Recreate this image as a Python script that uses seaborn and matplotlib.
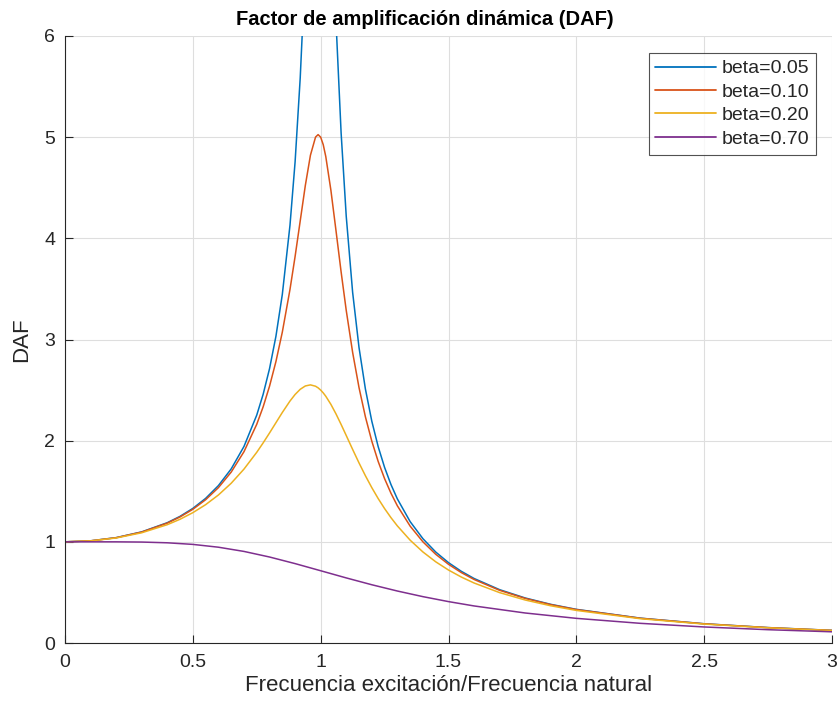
import numpy as np
import pandas as pd
import matplotlib
matplotlib.use("Agg")
import matplotlib.pyplot as plt
import seaborn as sns

# frequency ratio samples
r_main = [0, 0.1, 0.2, 0.3, 0.4, 0.45, 0.5, 0.55, 0.6, 0.65, 0.7, 0.75, 0.775, 0.8,
          0.825, 0.85, 0.88, 0.9, 0.92, 0.94, 0.96, 0.98, 0.99, 1.0, 1.01, 1.02, 1.04,
          1.06, 1.08, 1.1, 1.125, 1.15, 1.175, 1.2, 1.225, 1.25, 1.275, 1.3, 1.35, 1.4,
          1.45, 1.5, 1.55, 1.6, 1.7, 1.8, 1.9, 2.0, 2.25, 2.5, 2.75, 3.0]

daf_005 = [1.000, 1.0101, 1.0414, 1.0983, 1.1891, 1.2519, 1.3304, 1.4293, 1.5557, 1.7207,
           1.9426, 2.2529, 2.4581, 2.7116, 3.0316, 3.4455, 4.1296, 4.7565, 5.5852, 6.6837,
           8.068, 9.461, 9.903, 10.0, 9.711, 9.115, 7.565, 6.1414, 5.0409, 4.2182,
           3.4666, 2.9206, 2.5103, 2.1926, 1.9403, 1.7355, 1.5662, 1.4242, 1.1998, 1.0308,
           0.8993, 0.7943, 0.7087, 0.6377, 0.5270, 0.4450, 0.3821, 0.3326, 0.2458, 0.1903,
           0.1523, 0.1249]

daf_010 = [1.000, 1.0099, 1.0408, 1.0965, 1.1851, 1.2460, 1.3216, 1.4162, 1.5357, 1.6893,
           1.8908, 2.1621, 2.3343, 2.5384, 2.7818, 3.0728, 3.4949, 3.8208, 4.1721, 4.5225,
           4.8218, 5.0010, 5.0252, 5.0, 4.9262, 4.8086, 4.4756, 4.0750, 3.6676, 3.2880,
           2.8727, 2.5245, 2.2355, 1.9952, 1.7941, 1.6246, 1.4802, 1.3562, 1.1552, 1.0000,
           0.8772, 0.7779, 0.6962, 0.6280, 0.5207, 0.4408, 0.3791, 0.3304, 0.2447, 0.1896,
           0.1519, 0.1247]

daf_020 = [1.000, 1.0093, 1.0381, 1.0895, 1.1695, 1.2232, 1.2883, 1.3673, 1.4630, 1.5790,
           1.7188, 1.8851, 1.9780, 2.0761, 2.1775, 2.2786, 2.3918, 2.4566, 2.5077, 2.5407,
           2.5515, 2.5381, 2.5221, 2.5, 2.4722, 2.4391, 2.3589, 2.2642, 2.1601, 2.0511,
           1.9137, 1.7800, 1.6534, 1.5357, 1.4275, 1.3287, 1.2389, 1.1574, 1.0163, 0.8998,
           0.8027, 0.7212, 0.6521, 0.5931, 0.4979, 0.4250, 0.3679, 0.3221, 0.2403, 0.1871,
           0.1503, 0.1236]

r_070 = [0, 0.1, 0.2, 0.3, 0.4, 0.5, 0.6, 0.7, 0.8, 0.9, 1.0, 1.1, 1.2, 1.3, 1.4, 1.5,
         1.6, 1.8, 2.0, 2.25, 2.5, 2.75, 3.0]
daf_070 = [1.000, 1.0002, 1.000, 0.9978, 0.9905, 0.9747, 0.9469, 0.9052, 0.8500, 0.7848,
           0.7143, 0.6434, 0.5758, 0.5138, 0.4582, 0.4092, 0.3663, 0.2966, 0.2437, 0.1945,
           0.1585, 0.1314, 0.1107]

labels = ["beta=0.05", "beta=0.10", "beta=0.20", "beta=0.70"]
colors = ["#0072BD", "#D95319", "#EDB120", "#7E2F8E"]

frames = []
for lab, rr, dd in zip(labels, [r_main, r_main, r_main, r_070],
                       [daf_005, daf_010, daf_020, daf_070]):
    frames.append(pd.DataFrame({"r": rr, "DAF": dd, "serie": lab}))
df = pd.concat(frames, ignore_index=True)

sns.set_style("white")
plt.rcParams["font.family"] = ["Liberation Sans", "DejaVu Sans"]

fig = plt.figure(figsize=(8.38, 7.06), dpi=100)
ax = fig.add_axes([65 / 838, 1 - 643 / 706, (832 - 65) / 838, (643 - 36) / 706])

sns.lineplot(data=df, x="r", y="DAF", hue="serie", palette=colors, sort=False,
             estimator=None, linewidth=1.1, ax=ax, legend=True)

ax.set_xlim(0, 3)
ax.set_ylim(0, 6)
ax.set_xticks([0, 0.5, 1, 1.5, 2, 2.5, 3])
ax.set_xticklabels(["0", "0.5", "1", "1.5", "2", "2.5", "3"])
ax.set_yticks([0, 1, 2, 3, 4, 5, 6])
ax.grid(True, color="#dedede", linewidth=0.8)
ax.set_axisbelow(True)
for s in ["top", "right"]:
    ax.spines[s].set_visible(False)
for s in ["left", "bottom"]:
    ax.spines[s].set_color("#262626")
    ax.spines[s].set_linewidth(0.8)
ax.tick_params(bottom=True, left=True, direction="in", length=5.5, width=0.8,
               colors="#262626", labelsize=14, labelcolor="#262626")
ax.tick_params(axis="x", pad=8)
ax.tick_params(axis="y", pad=7)
ax.set_xlabel("Frecuencia excitación/Frecuencia natural", fontsize=16,
              color="#262626", labelpad=3)
ax.set_ylabel("DAF", fontsize=16, color="#262626", labelpad=9)
ax.set_title("Factor de amplificación dinámica (DAF)", fontsize=14.5,
             fontweight="bold", color="black", pad=8, x=(425 - 65) / (832 - 65))

leg = ax.legend(loc="upper right",
                bbox_to_anchor=((816 - 65) / (832 - 65), (643 - 53) / (643 - 36)),
                fontsize=14, frameon=True, fancybox=False, handlelength=3.1,
                borderaxespad=0.0, handletextpad=0.3, labelspacing=0.3,
                borderpad=0.35)
leg.get_frame().set_edgecolor("#262626")
leg.get_frame().set_linewidth(0.8)
for line in leg.get_lines():
    line.set_linewidth(1.3)

fig.savefig("out.png", dpi=100)
